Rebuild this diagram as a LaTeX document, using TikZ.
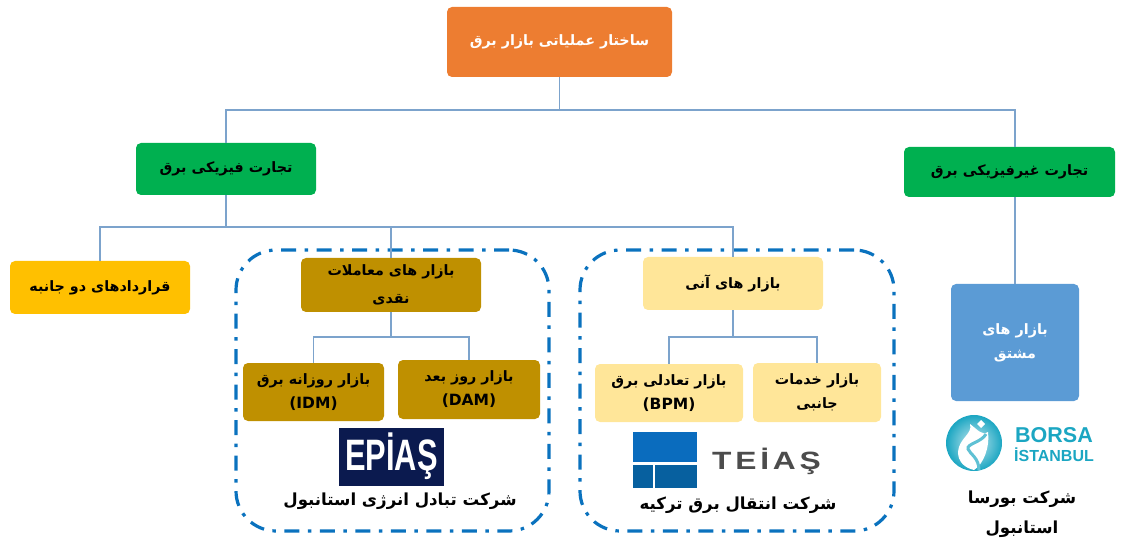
\documentclass[tikz,border=0pt]{standalone}
\usepackage{fontspec}
\setmainfont{Liberation Sans}
\newfontfamily\arabicfont[Script=Arabic]{DejaVu Sans}
\newfontfamily\logofont[LetterSpace=12]{Liberation Sans}
\TeXXeTstate=1
\usetikzlibrary{arrows.meta, positioning, shapes, backgrounds}
\newcommand{\fa}[1]{{\arabicfont\beginR #1\endR}}
\newcommand{\la}[1]{{\arabicfont\fontsize{15.5}{24}\selectfont #1}}
\definecolor{linkblue}{HTML}{7CA3CC}
\definecolor{frameblue}{HTML}{0A72BE}
\definecolor{epiasnavy}{HTML}{0B1A4F}
\definecolor{teiastop}{HTML}{0A6CBE}
\definecolor{teiasbot}{HTML}{07609F}
\definecolor{borsateal}{HTML}{1BA6C2}
\definecolor{rootfill}{HTML}{ED7D31}
\definecolor{tradefill}{HTML}{00B050}
\definecolor{bilatfill}{HTML}{FFC000}
\definecolor{spotfill}{HTML}{BF9000}
\definecolor{instantfill}{HTML}{FFE699}
\definecolor{derivfill}{HTML}{5B9BD5}

\begin{document}
\begin{tikzpicture}[
    x=1pt, y=-1pt,
    market/.style={rectangle, rounded corners=5pt, align=center, inner sep=0pt, font=\bfseries\fontsize{14.3}{24}\selectfont},
    link/.style={draw=linkblue, line width=1.4pt},
    frame/.style={draw=frameblue, line width=3.2pt, rounded corners=40pt, dash pattern=on 15pt off 8.5pt on 3.5pt off 8.5pt},
    company/.style={align=center, inner sep=0pt, font=\bfseries\fontsize{16.6}{30}\selectfont}
]
\useasboundingbox (0,0) rectangle (1128,540);

% ==== Dashed company frames ====
\node[frame, minimum width=313pt, minimum height=281pt] (epiasframe) at (392.5,390.5) {};
\node[frame, minimum width=314pt, minimum height=281pt] (teiasframe) at (737,390.5) {};

% ==== Market boxes ====
\node[market, fill=rootfill, text=white, minimum width=225pt, minimum height=70pt] (root) at (559.5,42) {\fa{ساختار عملیاتی بازار برق}};
\node[market, fill=tradefill, minimum width=180pt, minimum height=52pt] (physical) at (226,169) {\fa{تجارت فیزیکی برق}};
\node[market, fill=tradefill, minimum width=211pt, minimum height=50pt] (nonphysical) at (1009.5,172) {\fa{تجارت غیرفیزیکی برق}};
\node[market, fill=bilatfill, minimum width=180pt, minimum height=53pt] (bilateral) at (100,287.5) {\fa{قراردادهای دو جانبه}};
\node[market, fill=spotfill, minimum width=180pt, minimum height=54pt, font=\bfseries\fontsize{14.3}{28}\selectfont] (spot) at (391,285) {\fa{بازار های معاملات}\\\fa{نقدی}};
\node[market, fill=spotfill, minimum width=141pt, minimum height=58pt] (idm) at (313.5,392) {\fa{بازار روزانه برق}\\\la{(IDM)}};
\node[market, fill=spotfill, minimum width=142pt, minimum height=59pt] (dam) at (469,389.5) {\fa{بازار روز بعد}\\\la{(DAM)}};
\node[market, fill=instantfill, minimum width=180pt, minimum height=53pt] (instant) at (733,283.5) {\fa{بازار های آنی}};
\node[market, fill=instantfill, minimum width=148pt, minimum height=58pt] (bpm) at (669,393) {\fa{بازار تعادلی برق}\\\la{(BPM)}};
\node[market, fill=instantfill, minimum width=128pt, minimum height=59pt] (ancillary) at (817,392.5) {\fa{بازار خدمات}\\\fa{جانبی}};
\node[market, fill=derivfill, text=white, minimum width=128pt, minimum height=117pt] (derivative) at (1015,342.5) {\fa{بازار های}\\\fa{مشتق}};

% ==== Connector joints ====
\coordinate (rootjoint) at (559.5,110);
\coordinate (physjoint) at (226,227);
\coordinate (spotjoint) at (391,337);
\coordinate (instantjoint) at (733,337);

% ==== Connectors ====
\draw[link] (root) -- (rootjoint);
\draw[link] (rootjoint) -| (physical);
\draw[link] (rootjoint) -| (derivative |- nonphysical.north);
\draw[link] (derivative |- nonphysical.south) -- (derivative);
\draw[link] (physical) -- (physjoint);
\draw[link] (physjoint) -| (bilateral);
\draw[link] (physjoint) -| (spot);
\draw[link] (physjoint) -| (instant);
\draw[link] (spot) -- (spotjoint);
\draw[link] (spotjoint) -| (idm);
\draw[link] (spotjoint) -| (dam);
\draw[link] (instant) -- (instantjoint);
\draw[link] (instantjoint) -| (bpm);
\draw[link] (instantjoint) -| (ancillary);

% ==== EPIAS logo ====
\fill[epiasnavy] (339,428) rectangle (444,486);
\node[text=white, font=\bfseries\fontsize{44}{44}\selectfont, xscale=0.7, transform shape, inner sep=0pt] (epiaslogo) at (391.5,456) {EPİAŞ};
\node[company] (epias) at (400,501) {\fa{شرکت تبادل انرژی استانبول}};

% ==== TEIAS logo ====
\fill[teiastop] (633,432) rectangle (697,462);
\fill[teiasbot] (633,465) rectangle (653,488);
\fill[teiasbot] (655,465) rectangle (697,488);
\node[text=black!70, font=\logofont\bfseries\fontsize{25}{25}\selectfont, inner sep=0pt, xscale=1.27, transform shape] (teiaslogo) at (766.5,461) {TEİAŞ};
\node[company] (teias) at (738,505) {\fa{شرکت انتقال برق ترکیه}};

% ==== Borsa logo ====
\shade[inner color=borsateal!25, outer color=borsateal] (974,443) circle (28pt);
\fill[white] (970,424) .. controls (973,434) and (959,438) .. (958,452) .. controls (958,462) and (965,468) .. (974,470) .. controls (984,464) and (990,446) .. (988,432) .. controls (982,436) and (978,430) .. cycle;
\fill[white] (981,420) -- (985,424) -- (981,428) -- (977,424) -- cycle;
\draw[borsateal!70, line width=3pt] (986,434) .. controls (982,442) and (966,444) .. (968,449) .. controls (970,454) and (979,458) .. (979,470);
\node[text=borsateal, font=\bfseries\fontsize{21.5}{20}\selectfont, inner sep=0pt] (borsalogo) at (1054,435.5) {BORSA};
\node[text=borsateal, font=\bfseries\fontsize{16}{16}\selectfont, inner sep=0pt] (istanbullogo) at (1054,455) {İSTANBUL};
\node[company] (borsa) at (1022,514) {\fa{شرکت بورسا}\\\fa{استانبول}};

\end{tikzpicture}
\end{document}
